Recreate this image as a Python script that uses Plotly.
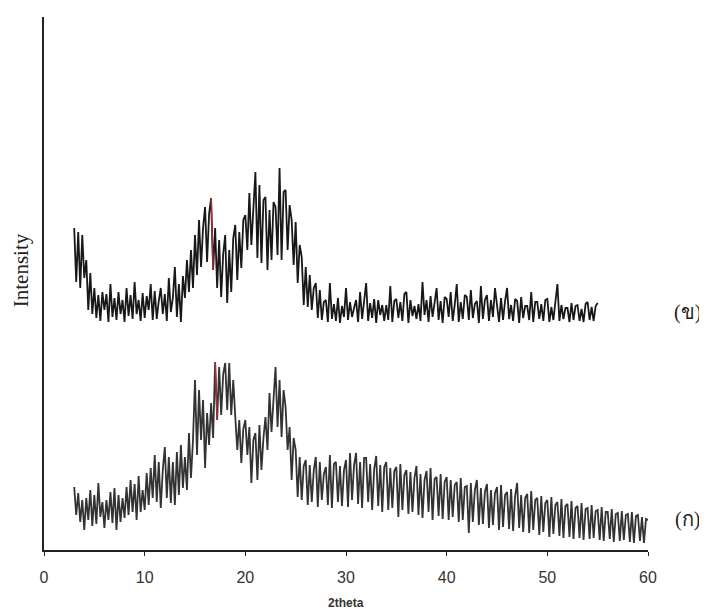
import plotly.graph_objects as go

# 2theta grid (step 0.2 deg)
x_b = [round(3 + 0.2 * i, 2) for i in range(261)]   # 3.0 .. 55.0
x_a = [round(3 + 0.2 * i, 2) for i in range(286)]   # 3.0 .. 60.0

# Upper pattern (ข), arbitrary intensity units
int_b = [
    322, 268, 318, 262, 315,
    272, 290, 240, 277, 236,
    262, 232, 255, 229, 258,
    240, 256, 228, 266, 233,
    252, 230, 258, 236, 250,
    228, 262, 234, 255, 231,
    268, 236, 250, 229, 257,
    232, 254, 240, 266, 230,
    259, 231, 249, 262, 236,
    256, 229, 272, 238, 252,
    283, 233, 266, 228, 274,
    252, 290, 258, 300, 262,
    315, 275, 330, 283, 322,
    343, 288, 336, 352, 280,
    322, 262, 310, 253, 296,
    315, 247, 300, 258, 312,
    325, 270, 318, 282, 330,
    335, 300, 357, 305, 345,
    378, 292, 365, 287, 350,
    353, 280, 340, 290, 348,
    343, 295, 382, 290, 358,
    360, 300, 345, 330, 285,
    328, 267, 305, 293, 245,
    283, 243, 275, 240, 262,
    267, 232, 260, 230, 248,
    250, 228, 267, 231, 246,
    229, 252, 227, 244, 233,
    262, 230, 248, 233, 242,
    250, 228, 258, 231, 247,
    267, 229, 247, 232, 251,
    227, 250, 235, 245, 229,
    245, 230, 264, 228, 249,
    251, 232, 248, 229, 256,
    258, 227, 250, 234, 244,
    231, 246, 229, 268, 235,
    250, 228, 254, 233, 247,
    262, 230, 249, 227, 253,
    251, 233, 258, 229, 245,
    266, 228, 248, 231, 255,
    253, 230, 260, 232, 246,
    249, 227, 264, 231, 250,
    255, 229, 250, 233, 262,
    247, 228, 252, 230, 249,
    262, 231, 245, 229, 251,
    249, 227, 253, 232, 244,
    244, 230, 258, 228, 248,
    248, 231, 246, 229, 250,
    251, 228, 243, 230, 247,
    266, 229, 245, 231, 242,
    242, 228, 247, 230, 244,
    245, 229, 241, 228, 246,
    248, 230, 243, 229, 244,
    247,
]

# Lower pattern (ก)
int_a = [
    63, 35, 57, 28, 50,
    20, 52, 30, 60, 24,
    55, 26, 67, 33, 48,
    22, 50, 30, 58, 27,
    62, 20, 55, 28, 52,
    32, 63, 35, 70, 38,
    66, 30, 74, 38, 60,
    40, 77, 45, 82, 52,
    95, 48, 88, 42, 80,
    103, 52, 93, 47, 88,
    45, 98, 55, 105, 62,
    93, 60, 117, 72, 110,
    170, 95, 160, 110, 150,
    82, 137, 105, 147, 112,
    188, 130, 183, 135, 176,
    187, 140, 187, 135, 170,
    133, 100, 130, 87, 121,
    130, 95, 123, 67, 110,
    117, 70, 125, 80, 112,
    133, 100, 157, 118, 150,
    183, 123, 170, 113, 160,
    143, 100, 123, 70, 112,
    100, 53, 93, 50, 84,
    90, 45, 85, 48, 80,
    93, 43, 88, 50, 76,
    83, 45, 95, 42, 86,
    88, 48, 84, 44, 80,
    90, 43, 97, 50, 85,
    97, 46, 88, 42, 92,
    92, 48, 86, 40, 81,
    94, 44, 85, 38, 83,
    88, 40, 82, 42, 79,
    83, 33, 86, 40, 75,
    80, 36, 78, 38, 72,
    84, 35, 76, 32, 70,
    79, 38, 82, 30, 71,
    73, 34, 76, 31, 68,
    73, 30, 70, 33, 65,
    68, 28, 72, 30, 63,
    64, 17, 67, 28, 60,
    70, 25, 62, 26, 58,
    66, 22, 60, 25, 57,
    63, 20, 65, 23, 55,
    58, 21, 61, 19, 54,
    67, 22, 55, 18, 52,
    56, 17, 59, 20, 50,
    52, 15, 54, 18, 47,
    50, 13, 53, 16, 45,
    48, 14, 51, 12, 44,
    46, 13, 49, 11, 42,
    44, 12, 47, 10, 41,
    42, 11, 45, 12, 39,
    40, 10, 43, 9, 38,
    38, 11, 41, 8, 36,
    37, 9, 39, 10, 35,
    36, 8, 38, 7, 34,
    35, 9, 33, 7, 31,
    30,
]

x_ticks = [0, 10, 20, 30, 40, 50, 60]
labels = ["(ข)", "(ก)"]

fig = go.Figure()
fig.add_trace(go.Scatter(x=x_b, y=int_b, mode="lines",
                         line=dict(color="#181818", width=1.8), showlegend=False))
fig.add_trace(go.Scatter(x=x_a, y=int_a, mode="lines",
                         line=dict(color="#333333", width=1.8), showlegend=False))
# small red highlights near 2theta ~ 16.6-17.2
fig.add_trace(go.Scatter(x=x_b[68:70], y=int_b[68:70], mode="lines",
                         line=dict(color="#b03030", width=1.4), showlegend=False))
fig.add_trace(go.Scatter(x=x_a[70:72], y=int_a[70:72], mode="lines",
                         line=dict(color="#b03030", width=1.4), showlegend=False))

fig.update_layout(
    width=707, height=611,
    margin=dict(l=36, r=67, t=9, b=69),
    paper_bgcolor="white", plot_bgcolor="white",
    xaxis=dict(range=[0, 60], tickvals=x_ticks, showline=True, linecolor="#222",
               linewidth=1.5, ticks="outside", ticklen=4, tickcolor="#222",
               showgrid=False, zeroline=False, ticklabelstandoff=8,
               tickfont=dict(family="Arial, Liberation Sans", size=16, color="#333")),
    yaxis=dict(range=[0, 533], showline=True, linecolor="#222", linewidth=1.5,
               showticklabels=False, ticks="", showgrid=False, zeroline=False),
    font=dict(family="Liberation Sans"),
)

fig.add_annotation(text="<b>2theta</b>", xref="paper", yref="paper", x=0.5, y=-0.099,
                   xanchor="center", yanchor="middle",
                   showarrow=False, font=dict(family="Arial, Liberation Sans", size=12, color="#333"))
fig.add_annotation(text="Intensity", xref="paper", yref="paper", x=-0.038, y=0.525,
                   xanchor="center", yanchor="middle", textangle=-90, showarrow=False,
                   font=dict(family="Liberation Serif, Times New Roman", size=21, color="#222"))
fig.add_annotation(text=labels[0], xref="paper", yref="paper", x=1.066, y=0.4465,
                   xanchor="center", yanchor="middle",
                   showarrow=False, font=dict(family="Liberation Serif, serif", size=20, color="#222"))
fig.add_annotation(text=labels[1], xref="paper", yref="paper", x=1.066, y=0.058,
                   xanchor="center", yanchor="middle",
                   showarrow=False, font=dict(family="Liberation Serif, serif", size=20, color="#222"))

fig.write_html("out.html")
